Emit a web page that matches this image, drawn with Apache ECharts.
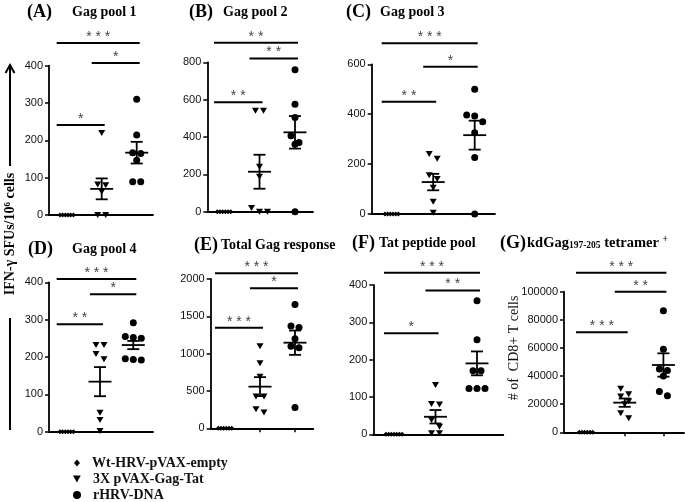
<!DOCTYPE html>
<html><head><meta charset="utf-8">
<script src="https://cdn.jsdelivr.net/npm/echarts@6/dist/echarts.min.js"></script>
<style>html,body{margin:0;padding:0;background:#fff}#c{width:685px;height:502px}</style>
</head><body><div id="c"></div>
<script>
// ---------------- data ----------------
const groups = ['Wt-HRV-pVAX-empty', '3X pVAX-Gag-Tat', 'rHRV-DNA'];
const letters = ['(A)', '(B)', '(C)', '(D)', '(E)', '(F)', '(G)'];
const titles = ['Gag pool 1', 'Gag pool 2', 'Gag pool 3', 'Gag pool 4', 'Total Gag response', 'Tat peptide pool', '{t|kdGag}{sub|197-205}{t| tetramer }{sup|+}'];
const yMax = [400, 800, 600, 400, 2000, 400, 100000];
const yStep = [100, 200, 200, 100, 500, 100, 20000];

const wtValues = [
  [0, 0, 0, 0, 0, 0],
  [0, 0, 0, 0, 0, 0],
  [0, 0, 0, 0, 0, 0],
  [0, 0, 0, 0, 0, 0],
  [0, 0, 0, 0, 0, 0],
  [0, 0, 0, 0, 0, 0, 0],
  [0, 0, 0, 0, 0, 0]
];
const gagTatValues = [
  [220, 82, 80, 62, 0, 0],
  [540, 540, 241, 187, 20, 0, 0],
  [240, 221, 155, 140, 105, 49, 5],
  [232, 232, 208, 194, 51, 31, 2],
  [1100, 870, 690, 425, 425, 255, 210],
  [132, 81, 80, 38, 20, 3, 3],
  [31000, 27000, 25500, 22000, 20000, 13500, 10000]
];
const rhrvValues = [
  [310, 214, 167, 165, 147, 89, 89],
  [760, 575, 505, 407, 371, 361, 0],
  [500, 397, 393, 370, 326, 226, 0],
  [292, 255, 252, 250, 195, 193, 192],
  [1660, 1370, 1350, 1200, 1100, 1080, 280],
  [358, 253, 170, 170, 123, 123, 123],
  [86500, 59000, 45000, 44000, 40000, 29000, 26000]
];
// mean +/- SEM
const gagTatMean = [70, 214, 128, 134, 558, 47, 21090];
const gagTatSem = [28, 91, 33, 39, 127, 18, 2960];
const rhrvMean = [167, 425, 316, 232, 1147, 190, 47870];
const rhrvSem = [29, 87, 58, 11, 163, 32, 8300];

// significance brackets: pairs (group indices 1..3), heights (data units), labels
const sigPairs = [[1, 3], [2, 3], [1, 2]];
const sigLevels = [
  [461, 407, 241],
  [905, 821, 586],
  [684, 590, 450],
  [409, 368, 288],
  [2076, 1875, 1348],
  [433, 385, 271],
  [113500, 100000, 71100]
];
const sigLabels = [
  ['***', '*', '*'],
  ['**', '**', '**'],
  ['***', '*', '**'],
  ['***', '*', '**'],
  ['***', '*', '***'],
  ['***', '**', '*'],
  ['***', '**', '***']
];

// ---------------- layout (pixels) ----------------
const layout = [
  {l: 49, t: 65.7, r: 153, b: 215, g1: 66.7, s: 35, lx: 27, tx: 72, ty: 12},
  {l: 207.3, t: 62.3, r: 313, b: 211.7, g1: 224, s: 35.5, lx: 189, tx: 223, ty: 12},
  {l: 371.7, t: 64.3, r: 495, b: 214, g1: 391.7, s: 41.5, lx: 346, tx: 380, ty: 12},
  {l: 49, t: 282.3, r: 153, b: 431.7, g1: 66.7, s: 33.3, lx: 28, tx: 72, ty: 249},
  {l: 210.7, t: 279, r: 313.3, b: 428.3, g1: 225, s: 35, lx: 194, tx: 221, ty: 245},
  {l: 373.3, t: 285, r: 503.3, b: 434.3, g1: 394, s: 41.5, lx: 352, tx: 379, ty: 243},
  {l: 564, t: 291.7, r: 684, b: 432.3, g1: 586, s: 38.7, lx: 500, tx: 527, ty: 243}
];
const tickPanels = [4, 6];

const triPath = 'path://M0,0L10,0L5,9Z';
const symbols = ['diamond', triPath, 'circle'];
const symbolSizes = [[5, 5], [7, 6], 7];
const pitches = [2.7, 8, 8];

function jitter(values, p, g) {
  const L = layout[p];
  const ppu = (L.b - L.t) / yMax[p];
  const sorted = values.slice().sort((a, b) => b - a);
  const clusters = [];
  let cur = null;
  sorted.forEach(v => {
    if (!cur || (cur[0] - v) * ppu > 7) { cur = [v]; clusters.push(cur); }
    else cur.push(v);
  });
  const out = [];
  clusters.forEach(c => {
    c.forEach((v, i) => {
      const off = (i - (c.length - 1) / 2) * pitches[g];
      out.push([g + 1 + off / L.s, v]);
    });
  });
  return out;
}

const grids = [], xAxes = [], yAxes = [], series = [], graphics = [];
const axisColor = '#000';

layout.forEach((L, p) => {
  grids.push({left: L.l, top: L.t, width: L.r - L.l, height: L.b - L.t});
  const xmin = 1 - (L.g1 - L.l) / L.s;
  const xmax = 1 + (L.r - L.g1) / L.s;
  const showTicks = tickPanels.indexOf(p) >= 0;
  xAxes.push({
    gridIndex: p, type: 'value', min: xmin, max: xmax,
    axisLine: {show: true, onZero: false, lineStyle: {color: axisColor, width: 1.8}},
    axisTick: showTicks ? {show: true, customValues: [2, 3], length: 4, lineStyle: {color: axisColor, width: 1.5}} : {show: false},
    axisLabel: {show: false}, splitLine: {show: false}
  });
  yAxes.push({
    gridIndex: p, type: 'value', min: 0, max: yMax[p], interval: yStep[p],
    axisLine: {show: true, lineStyle: {color: axisColor, width: 1.8}},
    axisTick: {show: true, length: 4, lineStyle: {color: axisColor, width: 1.5}},
    axisLabel: {margin: 6, fontSize: 11, color: '#111', fontFamily: 'Arial, "Liberation Sans", sans-serif', formatter: v => String(v)},
    splitLine: {show: false}
  });
  const vals = [wtValues[p], gagTatValues[p], rhrvValues[p]];
  vals.forEach((v, g) => {
    series.push({
      type: 'scatter', name: groups[g], xAxisIndex: p, yAxisIndex: p,
      data: jitter(v, p, g), symbol: symbols[g], symbolSize: symbolSizes[g],
      itemStyle: {color: '#000', opacity: 1}, clip: false, silent: true, z: 3
    });
  });
  // mean +/- SEM
  series.push({
    type: 'custom', xAxisIndex: p, yAxisIndex: p, clip: false, silent: true, z: 4,
    encode: {x: 0, y: 1},
    data: [[2, gagTatMean[p], gagTatSem[p]], [3, rhrvMean[p], rhrvSem[p]]],
    renderItem: function (params, api) {
      const x = api.value(0), m = api.value(1), e = api.value(2);
      const c = api.coord([x, m]), t = api.coord([x, m + e]), b = api.coord([x, m - e]);
      const st = {stroke: '#000', lineWidth: 1.8, fill: null};
      return {type: 'group', children: [
        {type: 'line', shape: {x1: c[0] - 11.5, y1: c[1], x2: c[0] + 11.5, y2: c[1]}, style: st},
        {type: 'line', shape: {x1: c[0], y1: t[1], x2: c[0], y2: b[1]}, style: st},
        {type: 'line', shape: {x1: c[0] - 6, y1: t[1], x2: c[0] + 6, y2: t[1]}, style: st},
        {type: 'line', shape: {x1: c[0] - 6, y1: b[1], x2: c[0] + 6, y2: b[1]}, style: st}
      ]};
    }
  });
  // significance brackets
  series.push({
    type: 'custom', xAxisIndex: p, yAxisIndex: p, clip: false, silent: true, z: 4,
    encode: {x: [0, 1], y: 2},
    data: sigPairs.map((pr, i) => [pr[0], pr[1], sigLevels[p][i]]),
    renderItem: (function (pp) {
      return function (params, api) {
        const a = api.coord([api.value(0), api.value(2)]);
        const b = api.coord([api.value(1), api.value(2)]);
        const x1 = a[0] - 10, x2 = b[0] + 3;
        const label = sigLabels[pp][params.dataIndex].split('').join(' ');
        return {type: 'group', children: [
          {type: 'line', shape: {x1: x1, y1: a[1], x2: x2, y2: a[1]}, style: {stroke: '#000', lineWidth: 2}},
          {type: 'text', style: {text: label, x: (x1 + x2) / 2, y: a[1] + 1, font: '14px Arial, "Liberation Sans", sans-serif', fill: '#444',
            align: 'center', verticalAlign: 'bottom', textAlign: 'center', textVerticalAlign: 'bottom'}}
        ]};
      };
    })(p)
  });
  // titles
  graphics.push({type: 'text', x: L.lx, y: L.ty, silent: true, style: {text: letters[p], font: 'bold 18px "Liberation Serif", "Times New Roman", serif', fill: '#000', verticalAlign: 'middle', textVerticalAlign: 'middle'}});
  graphics.push({type: 'text', x: L.tx, y: L.ty, silent: true, style: {text: titles[p], font: 'bold 14px "Liberation Serif", "Times New Roman", serif', fill: '#000', verticalAlign: 'middle', textVerticalAlign: 'middle',
    rich: {
      t: {fontFamily: 'Liberation Serif', fontWeight: 'bold', fontSize: 14.5, fill: '#000', color: '#000'},
      sub: {fontFamily: 'Liberation Serif', fontWeight: 'bold', fontSize: 9.5, verticalAlign: 'bottom', padding: [6, 0, 0, 0], fill: '#000', color: '#000'},
      sup: {fontFamily: 'Liberation Serif', fontWeight: 'bold', fontSize: 9.5, verticalAlign: 'top', padding: [0, 0, 6, 0], fill: '#000', color: '#000'}
    }}});
});

// shared y-axis label with arrow
graphics.push({type: 'text', x: 10, y: 234, rotation: Math.PI / 2, silent: true, style: {
  text: 'IFN-γ SFUs/10{sup|6} cells', font: 'bold 14px "Liberation Serif", serif', fill: '#000',
  align: 'center', verticalAlign: 'middle', textAlign: 'center', textVerticalAlign: 'middle',
  rich: {sup: {fontFamily: 'Liberation Serif', fontWeight: 'bold', fontSize: 9, verticalAlign: 'top', padding: [0, 0, 5, 0]}}
}});
graphics.push({type: 'line', silent: true, shape: {x1: 10, y1: 166, x2: 10, y2: 67}, style: {stroke: '#000', lineWidth: 2}});
graphics.push({type: 'polyline', silent: true, shape: {points: [[5.5, 73], [10, 65], [14.5, 73]]}, style: {stroke: '#000', lineWidth: 2, fill: null}});
graphics.push({type: 'line', silent: true, shape: {x1: 10, y1: 318, x2: 10, y2: 430}, style: {stroke: '#000', lineWidth: 2}});
// panel G axis name
graphics.push({type: 'text', x: 514, y: 348, rotation: Math.PI / 2, silent: true, style: {
  text: '# of  CD8+ T cells', font: '14px "Liberation Serif", serif', fill: '#111',
  align: 'center', verticalAlign: 'middle', textAlign: 'center', textVerticalAlign: 'middle'
}});

// legend: one row per group
const legendIcons = ['diamond', triPath, 'circle'];
const legendSizes = [[6, 7], [8, 7], [8, 8]];
const legendRows = [463, 479, 495];
const legends = groups.map((g, i) => ({
  orient: 'vertical', left: 77 - legendSizes[i][0] / 2, top: legendRows[i] - 7,
  itemWidth: legendSizes[i][0], itemHeight: legendSizes[i][1], padding: 0,
  selectedMode: false,
  formatter: n => '  ' + n,
  textStyle: {fontFamily: '"Liberation Serif", serif', fontWeight: 'bold', fontSize: 14, color: '#111', lineHeight: 14},
  data: [{name: g, icon: legendIcons[i]}]
}));

const chart = echarts.init(document.getElementById('c'), null, {renderer: 'canvas'});
chart.setOption({
  animation: false,
  backgroundColor: '#fff',
  grid: grids, xAxis: xAxes, yAxis: yAxes, series: series, graphic: graphics,
  legend: legends
});
</script>
</body></html>
